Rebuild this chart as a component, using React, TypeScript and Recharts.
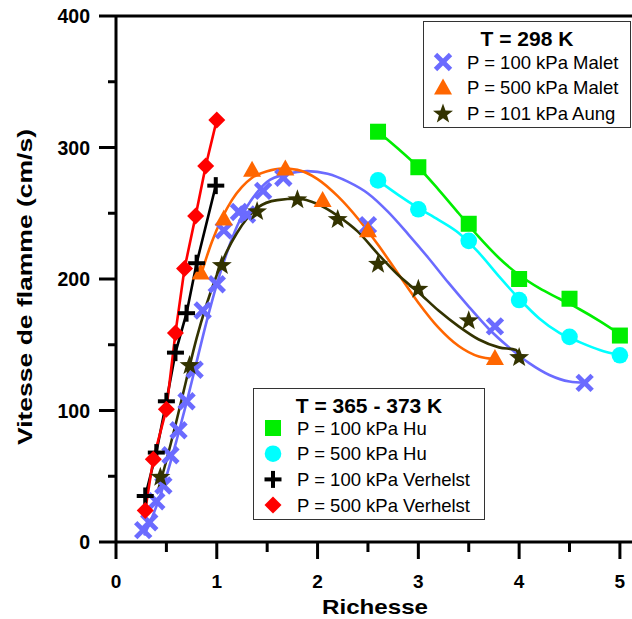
import React from 'react';
import { ComposedChart, Line, Scatter, XAxis, YAxis, ReferenceLine } from 'recharts';

const FONT = '"Liberation Sans", Arial, Helvetica, sans-serif';

// ---------- measured data (Richesse, Vitesse de flamme cm/s) ----------
// T = 298 K, P = 100 kPa Malet
const malet100X = [0.27, 0.33, 0.4, 0.47, 0.54, 0.62, 0.7, 0.78, 0.86, 1.0, 1.07, 1.22, 1.3, 1.46, 1.66, 2.5, 3.76, 4.65];
const malet100Y = [9, 15, 31, 43, 66, 85, 107, 131, 176, 196, 237, 251, 249, 267, 277, 241, 164, 121];
// fitted curve
const malet100FitX = [0.28, 0.4, 0.5, 0.6, 0.7, 0.8, 0.9, 1.0, 1.1, 1.2, 1.3, 1.4, 1.5, 1.7, 1.9, 2.1, 2.3, 2.5, 2.7, 2.9, 3.1, 3.3, 3.5, 3.7, 3.9, 4.1, 4.3, 4.5, 4.65];
const malet100FitY = [5, 27, 50, 77, 106, 137, 168, 196, 220, 240, 255, 266, 274, 280, 282, 280, 274, 265, 251, 234, 216, 197, 179, 162, 148, 136, 127, 122, 121];

// T = 298 K, P = 500 kPa Malet
const malet500X = [0.84, 1.07, 1.35, 1.68, 2.05, 2.5, 3.76];
const malet500Y = [205, 246, 283, 284, 260, 237, 140];
const malet500FitX = [0.85, 0.95, 1.05, 1.15, 1.25, 1.35, 1.5, 1.65, 1.8, 2.0, 2.2, 2.4, 2.6, 2.8, 3.0, 3.2, 3.4, 3.6, 3.76];
const malet500FitY = [205, 228, 246, 260, 270, 277, 282, 284, 283, 276, 263, 246, 226, 204, 182, 163, 149, 141, 139];

// T = 298 K, P = 101 kPa Aung
const aungX = [0.44, 0.73, 1.05, 1.4, 1.8, 2.2, 2.6, 3.0, 3.5, 4.0];
const aungY = [50, 135, 211, 252, 261, 246, 212, 193, 169, 141];
const aungFitX = [0.42, 0.5, 0.6, 0.7, 0.8, 0.9, 1.0, 1.1, 1.2, 1.3, 1.4, 1.6, 1.8, 2.0, 2.2, 2.4, 2.6, 2.8, 3.0, 3.2, 3.4, 3.6, 3.8, 3.97, 4.0];
const aungFitY = [40, 62, 92, 124, 155, 181, 203, 221, 235, 246, 254, 260, 261, 257, 248, 236, 219, 203, 190, 176, 164, 154, 148, 146, 141];

// T = 365 - 373 K, P = 100 kPa Hu
const hu100X = [2.6, 3.0, 3.5, 4.0, 4.5, 5.0];
const hu100Y = [312, 285, 242, 200, 185, 157];
const hu100FitX = [2.6, 2.8, 3.0, 3.2, 3.4, 3.6, 3.8, 4.0, 4.2, 4.4, 4.6, 4.8, 5.0];
const hu100FitY = [312, 299, 285, 268, 250, 232, 216, 203, 193, 185, 177, 168, 158];
// P = 500 kPa Hu
const hu500X = [2.6, 3.0, 3.5, 4.0, 4.5, 5.0];
const hu500Y = [275, 253, 229, 184, 156, 142];
const hu500FitX = [2.6, 2.8, 3.0, 3.2, 3.4, 3.6, 3.8, 4.0, 4.2, 4.4, 4.6, 4.8, 5.0];
const hu500FitY = [275, 264, 254, 245, 235, 220, 202, 185, 170, 159, 152, 146, 142];
// P = 100 kPa Verhelst
const verh100X = [0.29, 0.4, 0.5, 0.59, 0.7, 0.8, 0.99];
const verh100Y = [35, 68, 107, 144, 174, 212, 271];
// P = 500 kPa Verhelst
const verh500X = [0.29, 0.37, 0.5, 0.59, 0.68, 0.79, 0.89, 1.0];
const verh500Y = [24, 63, 101, 159, 208, 248, 286, 321];

const xTicks = [0, 0.5, 1, 1.5, 2, 2.5, 3, 3.5, 4, 4.5, 5];
const yTicks = [0, 50, 100, 150, 200, 250, 300, 350, 400];

const zip = (xs: number[], ys: number[]) => xs.map((x, i) => ({ x, y: ys[i] }));

const C_BLUE = '#6B6BFF';
const C_ORANGE = '#FF6600';
const C_OLIVE = '#333300';
const C_GREEN = '#00EE00';
const C_CYAN = '#00FFFF';
const C_RED = '#FF0000';
const C_BLACK = '#000000';

// ---------- markers ----------
const XMark = ({ cx, cy, s = 7.5 }: any) => (
  <g stroke={C_BLUE} strokeWidth={4.8}>
    <line x1={cx - s} y1={cy - s} x2={cx + s} y2={cy + s} />
    <line x1={cx - s} y1={cy + s} x2={cx + s} y2={cy - s} />
  </g>
);
const TriMark = ({ cx, cy }: any) => (
  <polygon points={`${cx},${cy - 9} ${cx - 9},${cy + 7} ${cx + 9},${cy + 7}`} fill={C_ORANGE} />
);
const StarMark = ({ cx, cy }: any) => {
  const pts: string[] = [];
  for (let i = 0; i < 10; i++) {
    const r = i % 2 === 0 ? 10.5 : 4.3;
    const a = -Math.PI / 2 + (i * Math.PI) / 5;
    pts.push(`${cx + r * Math.cos(a)},${cy + 1 + r * Math.sin(a)}`);
  }
  return <polygon points={pts.join(' ')} fill={C_OLIVE} />;
};
const SquareMark = ({ cx, cy }: any) => <rect x={cx - 8} y={cy - 8} width={16} height={16} fill={C_GREEN} />;
const CircleMark = ({ cx, cy }: any) => <circle cx={cx} cy={cy} r={8.3} fill={C_CYAN} />;
const PlusMark = ({ cx, cy }: any) => (
  <g stroke={C_BLACK} strokeWidth={4}>
    <line x1={cx - 8.5} y1={cy} x2={cx + 8.5} y2={cy} />
    <line x1={cx} y1={cy - 8.5} x2={cx} y2={cy + 8.5} />
  </g>
);
const DiamondMark = ({ cx, cy }: any) => (
  <polygon points={`${cx},${cy - 8.5} ${cx + 8.5},${cy} ${cx},${cy + 8.5} ${cx - 8.5},${cy}`} fill={C_RED} />
);

// ---------- ticks ----------
const XTick = (props: any) => {
  const { x, y, payload } = props;
  const v = payload.value;
  const major = Math.abs(v - Math.round(v)) < 1e-6;
  return (
    <g>
      <line x1={x} x2={x} y1={y} y2={y + (major ? 17 : 10)} stroke="#000" strokeWidth={3} />
      {major && (
        <text x={x} y={y + 46} textAnchor="middle" fontFamily={FONT} fontWeight="bold" fontSize={19} fill="#000">
          {v}
        </text>
      )}
    </g>
  );
};
const YTick = (props: any) => {
  const { x, y, payload } = props;
  const v = payload.value;
  const major = v % 100 === 0;
  return (
    <g>
      <line x1={x - (major ? 17 : 8)} x2={x} y1={y} y2={y} stroke="#000" strokeWidth={3} />
      {major && (
        <text x={x - 26} y={y + 7} textAnchor="end" fontFamily={FONT} fontWeight="bold" fontSize={19.5} fill="#000">
          {v}
        </text>
      )}
    </g>
  );
};

const legend1 = [
  { label: 'P = 100 kPa Malet', M: XMark },
  { label: 'P = 500 kPa Malet', M: TriMark },
  { label: 'P = 101 kPa Aung', M: StarMark },
];
const legend2 = [
  { label: 'P = 100 kPa Hu', M: SquareMark },
  { label: 'P = 500 kPa Hu', M: CircleMark },
  { label: 'P = 100 kPa Verhelst', M: PlusMark },
  { label: 'P = 500 kPa Verhelst', M: DiamondMark },
];

export default function App() {
  const lineCommon = { dataKey: 'y', dot: false, isAnimationActive: false, strokeWidth: 2.6, activeDot: false } as any;
  return (
    <div style={{ position: 'absolute', left: 0, top: 0, width: 632, height: 619, overflow: 'hidden', background: '#fff' }}>
      <ComposedChart width={632} height={619} margin={{ top: 16, right: 0, bottom: 0, left: 0 }}>
        <XAxis
          dataKey="x"
          type="number"
          domain={[0, 5.12]}
          allowDataOverflow
          ticks={xTicks}
          interval={0}
          tickSize={0}
          tickMargin={0}
          tickLine={false}
          tick={<XTick />}
          axisLine={{ stroke: '#000', strokeWidth: 3 }}
          height={77}
        />
        <YAxis
          dataKey="y"
          type="number"
          domain={[0, 400]}
          allowDataOverflow
          ticks={yTicks}
          interval={0}
          tickSize={0}
          tickMargin={0}
          tickLine={false}
          tick={<YTick />}
          axisLine={{ stroke: '#000', strokeWidth: 3 }}
          width={116}
        />
        <ReferenceLine y={400} stroke="#000" strokeWidth={3} ifOverflow="visible" />
        <Line {...lineCommon} data={zip(malet100FitX, malet100FitY)} type="monotone" stroke={C_BLUE} />
        <Line {...lineCommon} data={zip(malet500FitX, malet500FitY)} type="monotone" stroke={C_ORANGE} />
        <Line {...lineCommon} data={zip(aungFitX, aungFitY)} type="monotone" stroke={C_OLIVE} />
        <Line {...lineCommon} data={zip(hu100FitX, hu100FitY)} type="monotone" stroke={C_GREEN} />
        <Line {...lineCommon} data={zip(hu500FitX, hu500FitY)} type="monotone" stroke={C_CYAN} />
        <Line {...lineCommon} data={zip(verh100X, verh100Y)} type="linear" stroke={C_BLACK} />
        <Line {...lineCommon} data={zip(verh500X, verh500Y)} type="linear" stroke={C_RED} />
        <Scatter data={zip(malet100X, malet100Y)} isAnimationActive={false} shape={(p: any) => <XMark cx={p.cx} cy={p.cy} />} />
        <Scatter data={zip(malet500X, malet500Y)} isAnimationActive={false} shape={(p: any) => <TriMark cx={p.cx} cy={p.cy} />} />
        <Scatter data={zip(aungX, aungY)} isAnimationActive={false} shape={(p: any) => <StarMark cx={p.cx} cy={p.cy} />} />
        <Scatter data={zip(hu100X, hu100Y)} isAnimationActive={false} shape={(p: any) => <SquareMark cx={p.cx} cy={p.cy} />} />
        <Scatter data={zip(hu500X, hu500Y)} isAnimationActive={false} shape={(p: any) => <CircleMark cx={p.cx} cy={p.cy} />} />
        <Scatter data={zip(verh100X, verh100Y)} isAnimationActive={false} shape={(p: any) => <PlusMark cx={p.cx} cy={p.cy} />} />
        <Scatter data={zip(verh500X, verh500Y)} isAnimationActive={false} shape={(p: any) => <DiamondMark cx={p.cx} cy={p.cy} />} />
      </ComposedChart>
      <svg width={632} height={619} style={{ position: 'absolute', left: 0, top: 0, pointerEvents: 'none' }}>
        <text x={375} y={614} textAnchor="middle" fontFamily={FONT} fontWeight="bold" fontSize={20.5} textLength={106} lengthAdjust="spacingAndGlyphs">
          Richesse
        </text>
        <text
          transform="translate(32,287) rotate(-90)"
          x={0}
          y={0}
          textAnchor="middle"
          fontFamily={FONT}
          fontWeight="bold"
          fontSize={20.5}
          textLength={316}
          lengthAdjust="spacingAndGlyphs"
        >
          Vitesse de flamme (cm/s)
        </text>
        {/* Legend 1 */}
        <rect x={423.5} y={21.5} width={207} height={106} fill="#fff" stroke="#333" strokeWidth={1} />
        <text x={527} y={46} textAnchor="middle" fontFamily={FONT} fontWeight="bold" fontSize={21}>
          T = 298 K
        </text>
        {legend1.map((e, i) => (
          <g key={e.label}>
            <e.M cx={443} cy={62 + i * 25.5} />
            <text x={467} y={62 + i * 25.5 + 6.7} fontFamily={FONT} fontSize={18.5}>
              {e.label}
            </text>
          </g>
        ))}
        {/* Legend 2 */}
        <rect x={253.5} y={388.5} width={231} height={131} fill="#fff" stroke="#333" strokeWidth={1} />
        <text x={369} y={413} textAnchor="middle" fontFamily={FONT} fontWeight="bold" fontSize={21}>
          T = 365 - 373 K
        </text>
        {legend2.map((e, i) => (
          <g key={e.label}>
            <e.M cx={273} cy={428 + i * 25.7} />
            <text x={297} y={428 + i * 25.7 + 6.7} fontFamily={FONT} fontSize={18.5}>
              {e.label}
            </text>
          </g>
        ))}
      </svg>
    </div>
  );
}
